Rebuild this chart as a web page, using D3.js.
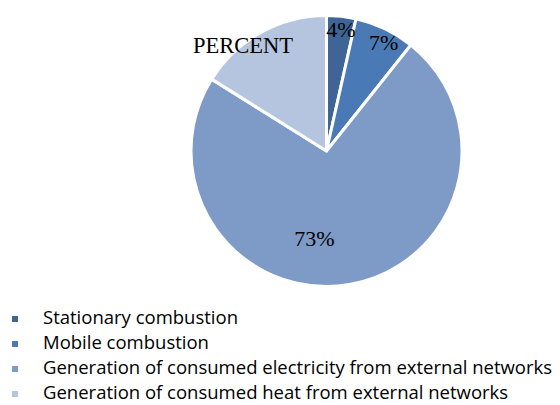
<!DOCTYPE html>
<html>
<head>
<meta charset="utf-8">
<script src="https://cdn.jsdelivr.net/npm/d3@7"></script>
<style>
  body { margin: 0; background: #fff; }
</style>
</head>
<body>
<script>
  // data
  const categories = [
    'Stationary combustion',
    'Mobile combustion',
    'Generation of consumed electricity from external networks',
    'Generation of consumed heat from external networks'
  ];
  const values = [3.5, 7.2, 73.2, 16.1];
  const sliceLabels = ['4%', '7%', '73%', ''];
  const title = 'PERCENT';

  const width = 560, height = 405;
  const cx = 326.5, cy = 151, radius = 135.5;

  const color = d3.scaleOrdinal()
    .domain(categories)
    .range(['#3E6595', '#4A7AB6', '#7E9BC8', '#B5C4DF']);

  const svg = d3.select('body').append('svg')
    .attr('width', width)
    .attr('height', height);

  const pie = d3.pie().sort(null).value(d => d.value);
  const arc = d3.arc().innerRadius(0).outerRadius(radius);

  const data = categories.map((c, i) => ({name: c, value: values[i], label: sliceLabels[i]}));
  const arcs = pie(data);

  const g = svg.append('g').attr('transform', `translate(${cx},${cy})`);

  g.selectAll('path')
    .data(arcs)
    .enter().append('path')
      .attr('d', arc)
      .attr('fill', d => color(d.data.name))
      .attr('stroke', '#fff')
      .attr('stroke-width', 3)
      .attr('stroke-linejoin', 'round');

  // label positions, tuned per slice like the original (radius factor + nudge)
  const labelRadius = [0.9, 0.89, 0.65, 0.7];
  const labelNudge = [1, 5, -27, 0];
  g.selectAll('text.lbl')
    .data(arcs)
    .enter().append('text')
      .attr('class', 'lbl')
      .attr('transform', (d, i) => {
        const a = (d.startAngle + d.endAngle) / 2;
        const r = radius * labelRadius[i];
        return `translate(${Math.sin(a) * r + labelNudge[i]},${-Math.cos(a) * r})`;
      })
      .attr('text-anchor', 'middle')
      .attr('dy', '0.35em')
      .style('font-family', '"Liberation Serif", "Times New Roman", serif')
      .style('font-size', '22px')
      .style('fill', '#000')
      .text(d => d.data.label);

  svg.append('text')
    .attr('x', 193)
    .attr('y', 53)
    .style('font-family', '"Liberation Serif", "Times New Roman", serif')
    .style('font-size', '22.5px')
    .style('fill', '#000')
    .text(title);

  // legend
  const legend = svg.append('g').attr('transform', 'translate(12,313)');
  const rows = legend.selectAll('g')
    .data(categories)
    .enter().append('g')
      .attr('transform', (d, i) => `translate(0,${i * 25})`);
  rows.append('rect')
    .attr('x', 0).attr('y', 3)
    .attr('width', 6).attr('height', 6)
    .attr('fill', d => color(d));
  rows.append('text')
    .attr('x', 31)
    .attr('y', 5)
    .attr('dy', '0.35em')
    .style('font-family', '"Open Sans", sans-serif')
    .style('font-size', '18.5px')
    .style('fill', '#000')
    .text(d => d);
</script>
</body>
</html>
